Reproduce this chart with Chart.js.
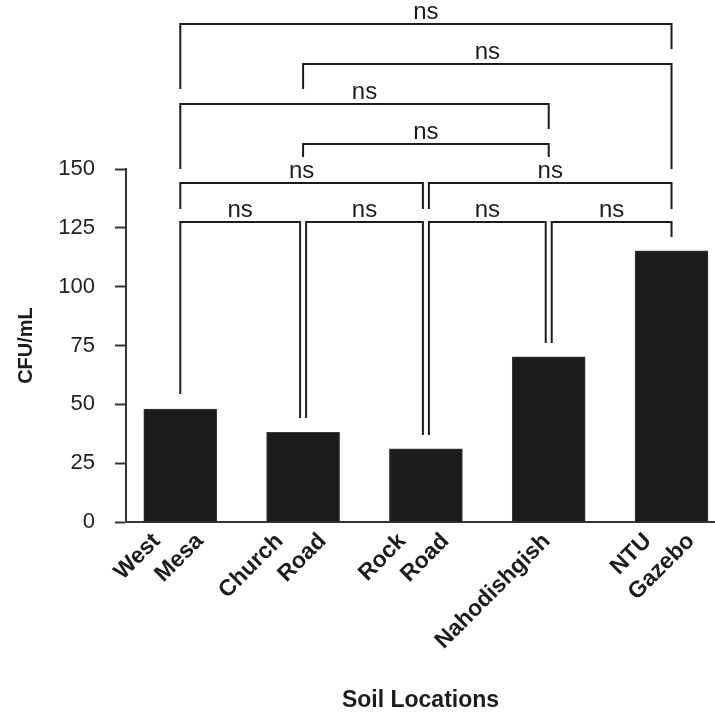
<!DOCTYPE html>
<html>
<head>
<meta charset="utf-8">
<script src="https://cdn.jsdelivr.net/npm/chart.js@4/dist/chart.umd.min.js"></script>
<style>
  html, body { margin: 0; padding: 0; background: #fff; overflow: hidden; }
  canvas { display: block; }
</style>
</head>
<body>
<canvas id="chart" width="715" height="714"></canvas>
<script>
const locations = [['West', 'Mesa'], ['Church', 'Road'], ['Rock', 'Road'], ['Nahodishgish'], ['NTU', 'Gazebo']];
const cfuValues = [48.0, 38.1, 31.1, 70.2, 115.2];
const yTickValues = [0, 25, 50, 75, 100, 125, 150];

// significance brackets, indices into locations
const bracketFrom = [0, 1, 2, 3, 0, 2, 1, 0, 1, 0];
const bracketTo = [1, 2, 3, 4, 2, 4, 3, 3, 4, 4];
const bracketHeight = [127.5, 127.5, 127.5, 127.5, 144.1, 144.1, 160.6, 177.6, 194.6, 211.6];
const leftLegEnd = [54.4, 44.2, 37.0, 76.1, 133.0, 133.0, 155.1, 150.0, 184.0, 184.0];
const rightLegEnd = [44.2, 37.0, 76.1, 121.1, 133.0, 133.0, 155.1, 167.0, 150.0, 201.0];
const bracketText = ['ns', 'ns', 'ns', 'ns', 'ns', 'ns', 'ns', 'ns', 'ns', 'ns'];

const FONT = "'Liberation Sans', Arial, sans-serif";
const INK = '#1c1c1c';
const AXIS = '#30353a';

Chart.defaults.font.family = FONT;

const bracketPlugin = {
  id: 'brackets',
  afterDatasetsDraw(chart) {
    const { ctx, scales: { x, y } } = chart;
    ctx.save();
    ctx.strokeStyle = INK;
    ctx.lineWidth = 2;
    ctx.lineJoin = 'miter';
    ctx.fillStyle = INK;
    ctx.font = '24px ' + FONT;
    ctx.textAlign = 'center';
    ctx.textBaseline = 'alphabetic';
    bracketFrom.forEach((from, i) => {
      const to = bracketTo[i];
      const level = bracketHeight[i];
      // pull the ends in where a neighbour on the same level shares the column
      const sharesLeft = bracketTo.some((t, j) => j !== i && t === from && bracketHeight[j] === level);
      const sharesRight = bracketFrom.some((f, j) => j !== i && f === to && bracketHeight[j] === level);
      const x1 = x.getPixelForValue(from) + (sharesLeft ? 3 : 0);
      const x2 = x.getPixelForValue(to) - (sharesRight ? 3 : 0);
      const yl = y.getPixelForValue(level);
      ctx.beginPath();
      ctx.moveTo(x1, y.getPixelForValue(leftLegEnd[i]));
      ctx.lineTo(x1, yl);
      ctx.lineTo(x2, yl);
      ctx.lineTo(x2, y.getPixelForValue(rightLegEnd[i]));
      ctx.stroke();
      ctx.fillText(bracketText[i], (x1 + x2) / 2, yl - 5);
    });
    ctx.restore();
  }
};

const categoryLabelPlugin = {
  id: 'categoryLabels',
  afterDraw(chart) {
    const { ctx, scales: { x } } = chart;
    ctx.save();
    ctx.fillStyle = INK;
    ctx.font = 'bold 23px ' + FONT;
    ctx.textAlign = 'right';
    ctx.textBaseline = 'alphabetic';
    locations.forEach((lines, i) => {
      const cx = x.getPixelForValue(i);
      lines.forEach((word, k) => {
        const tipX = cx + 2.5 + (k - (lines.length - 1) / 2) * 43;
        ctx.save();
        ctx.translate(tipX, x.top + 20);
        ctx.rotate(-Math.PI / 4);
        ctx.fillText(word, 0, 0);
        ctx.restore();
      });
    });
    ctx.restore();
  }
};

new Chart(document.getElementById('chart'), {
  type: 'bar',
  data: {
    datasets: [{
      label: 'CFU/mL',
      data: cfuValues.map((v, i) => ({ x: i, y: v })),
      backgroundColor: INK,
      borderColor: '#3a3a3a',
      borderWidth: 1,
      barThickness: 73
    }]
  },
  options: {
    responsive: false,
    animation: false,
    layout: { padding: { top: 169, left: 0, right: 0, bottom: 0 } },
    plugins: {
      legend: { display: false },
      tooltip: { enabled: false }
    },
    scales: {
      x: {
        type: 'linear',
        offset: false,
        min: -0.442,
        max: 4.354,
        grid: { display: false },
        border: { display: true, color: AXIS, width: 2 },
        ticks: { display: false },
        title: {
          display: true,
          text: 'Soil Locations',
          color: INK,
          font: { size: 23, weight: 'bold' },
          padding: { top: 1, bottom: 0 }
        },
        afterFit: s => { s.height = 192; }
      },
      y: {
        min: 0,
        max: 150,
        afterBuildTicks: s => { s.ticks = yTickValues.map(v => ({ value: v })); },
        grid: { drawOnChartArea: false, tickLength: 11, tickWidth: 2, tickColor: AXIS },
        border: { display: true, color: AXIS, width: 2 },
        ticks: { color: '#222', padding: 20, font: { size: 22 } },
        title: {
          display: true,
          text: 'CFU/mL',
          color: INK,
          font: { size: 20, weight: 'bold' },
          padding: { top: 14, bottom: 0 }
        },
        afterFit: s => { s.width = 126; }
      }
    }
  },
  plugins: [bracketPlugin, categoryLabelPlugin]
});
</script>
</body>
</html>
